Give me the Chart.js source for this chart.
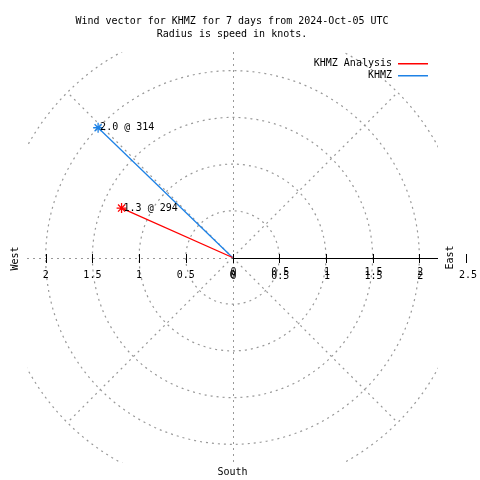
<!DOCTYPE html>
<html>
<head>
<meta charset="utf-8">
<script src="https://cdn.jsdelivr.net/npm/chart.js@4"></script>
<style>
  html, body { margin: 0; padding: 0; background: #fff; }
  #wrap { width: 480px; height: 480px; }
</style>
</head>
<body>
<div id="wrap"><canvas id="chartWind"></canvas></div>
<script>
const stations = ["KHMZ Analysis", "KHMZ"];
const speeds = [1.3, 2.0];          // knots
const directions = [294, 314];      // degrees
const colors = ["#ff0000", "#1e82e6"];
const ringValues = [0.5, 1, 1.5, 2, 2.5];
const tickValues = [0, 0.5, 1, 1.5, 2];
const tickLabels = ["0", "0.5", "1", "1.5", "2"];
const titleLines = ["Wind vector for KHMZ for 7 days from 2024-Oct-05 UTC", "Radius is speed in knots."];

const FONT = "10px 'DejaVu Sans Mono', monospace";
const GRID = "#999999";

const datasets = stations.map((name, i) => {
  const rad = directions[i] * Math.PI / 180;
  return {
    label: name,
    data: [{x: 0, y: 0}, {x: speeds[i] * Math.sin(rad), y: speeds[i] * Math.cos(rad)}],
    showLine: true,
    borderColor: colors[i],
    backgroundColor: colors[i],
    borderWidth: 1.3,
    pointStyle: "star",
    pointRadius: [0, 5],
    pointBorderWidth: 1.3,
    pointBorderColor: colors[i],
  };
});

const polarGrid = {
  id: "polarGrid",
  beforeDatasetsDraw(chart) {
    const {ctx, chartArea: a, scales: {x, y}} = chart;
    const cx = x.getPixelForValue(0), cy = y.getPixelForValue(0);
    const px = v => x.getPixelForValue(v) - cx;
    ctx.save();
    ctx.beginPath();
    ctx.rect(a.left, a.top, a.right - a.left, a.bottom - a.top);
    ctx.clip();
    ctx.strokeStyle = GRID;
    ctx.lineWidth = 1.2;
    ctx.setLineDash([2, 4]);
    ringValues.forEach(r => {
      ctx.beginPath();
      ctx.arc(cx, cy, px(r), 0, Math.PI * 2);
      ctx.stroke();
    });
    const rmax = px(ringValues[ringValues.length - 1]);
    [45, 135, 225, 315].forEach(d => {
      const t = d * Math.PI / 180;
      ctx.beginPath();
      ctx.moveTo(cx, cy);
      ctx.lineTo(cx + rmax * Math.sin(t), cy - rmax * Math.cos(t));
      ctx.stroke();
    });
    ctx.lineWidth = 1;
    ctx.beginPath();
    ctx.moveTo(Math.round(cx) + 0.5, a.top);
    ctx.lineTo(Math.round(cx) + 0.5, a.bottom);
    ctx.moveTo(a.left, Math.round(cy) + 0.5);
    ctx.lineTo(cx, Math.round(cy) + 0.5);
    ctx.stroke();
    ctx.restore();

    // polar axis (east) and ticks
    const ay = Math.round(cy) + 0.5;
    ctx.save();
    ctx.strokeStyle = "#000";
    ctx.lineWidth = 1;
    ctx.beginPath();
    ctx.moveTo(cx, ay);
    ctx.lineTo(a.right, ay);
    tickValues.concat([2.5]).forEach(v => {
      const tx = Math.round(x.getPixelForValue(v)) + 0.5;
      ctx.moveTo(tx, ay - 4.5);
      ctx.lineTo(tx, ay + 4.5);
    });
    tickValues.slice(1).forEach(v => {
      const tx = Math.round(x.getPixelForValue(-v)) + 0.5;
      ctx.moveTo(tx, ay - 4.5);
      ctx.lineTo(tx, ay + 4.5);
    });
    ctx.stroke();

    ctx.fillStyle = "#000";
    ctx.font = FONT;
    ctx.textAlign = "center";
    ctx.textBaseline = "middle";
    tickValues.forEach((v, i) => {
      ctx.fillText(tickLabels[i], x.getPixelForValue(-v), cy + 18);
      ctx.fillText(tickLabels[i], x.getPixelForValue(v) + 1, cy + 15);
      ctx.fillText(tickLabels[i], x.getPixelForValue(v) + 1, cy + 19);
    });
    ctx.fillText("2.5", x.getPixelForValue(2.5) + 2, cy + 18);
    ctx.restore();
  },
  afterDraw(chart) {
    const {ctx, scales: {x, y}} = chart;
    const cx = x.getPixelForValue(0), cy = y.getPixelForValue(0);
    ctx.save();
    ctx.fillStyle = "#000";
    ctx.font = FONT;
    ctx.textBaseline = "middle";

    // vector labels
    ctx.textAlign = "left";
    chart.data.datasets.forEach((ds, i) => {
      const p = ds.data[1];
      ctx.fillText(speeds[i].toFixed(1) + " @ " + directions[i], x.getPixelForValue(p.x) + 2, y.getPixelForValue(p.y));
    });

    // title
    ctx.textAlign = "center";
    ctx.fillText(titleLines[0], 232, 21);
    ctx.fillText(titleLines[1], 232, 34);
    ctx.fillText("South", cx, 472);

    // compass words
    ctx.save();
    ctx.translate(15, cy + 1);
    ctx.rotate(-Math.PI / 2);
    ctx.fillText("West", 0, 0);
    ctx.restore();
    ctx.save();
    ctx.translate(450, cy);
    ctx.rotate(-Math.PI / 2);
    ctx.fillText("East", 0, 0);
    ctx.restore();

    // legend
    ctx.textAlign = "right";
    stations.forEach((name, i) => {
      const ly = 63 + i * 12;
      ctx.fillStyle = "#000";
      ctx.fillText(name, 392, ly);
      ctx.fillStyle = colors[i];
      ctx.fillRect(398, ly, 30, 1.5);
    });
    ctx.restore();
  }
};

new Chart(document.querySelector("#chartWind"), {
  type: "scatter",
  data: {datasets: datasets},
  options: {
    responsive: true,
    maintainAspectRatio: false,
    animation: false,
    layout: {padding: {left: 27, right: 42, top: 52, bottom: 17}},
    plugins: {legend: {display: false}, tooltip: {enabled: false}},
    scales: {
      x: {type: "linear", min: -2.2, max: 2.2, display: false},
      y: {type: "linear", min: -2.2, max: 2.2, display: false}
    }
  },
  plugins: [polarGrid]
});
</script>
</body>
</html>
